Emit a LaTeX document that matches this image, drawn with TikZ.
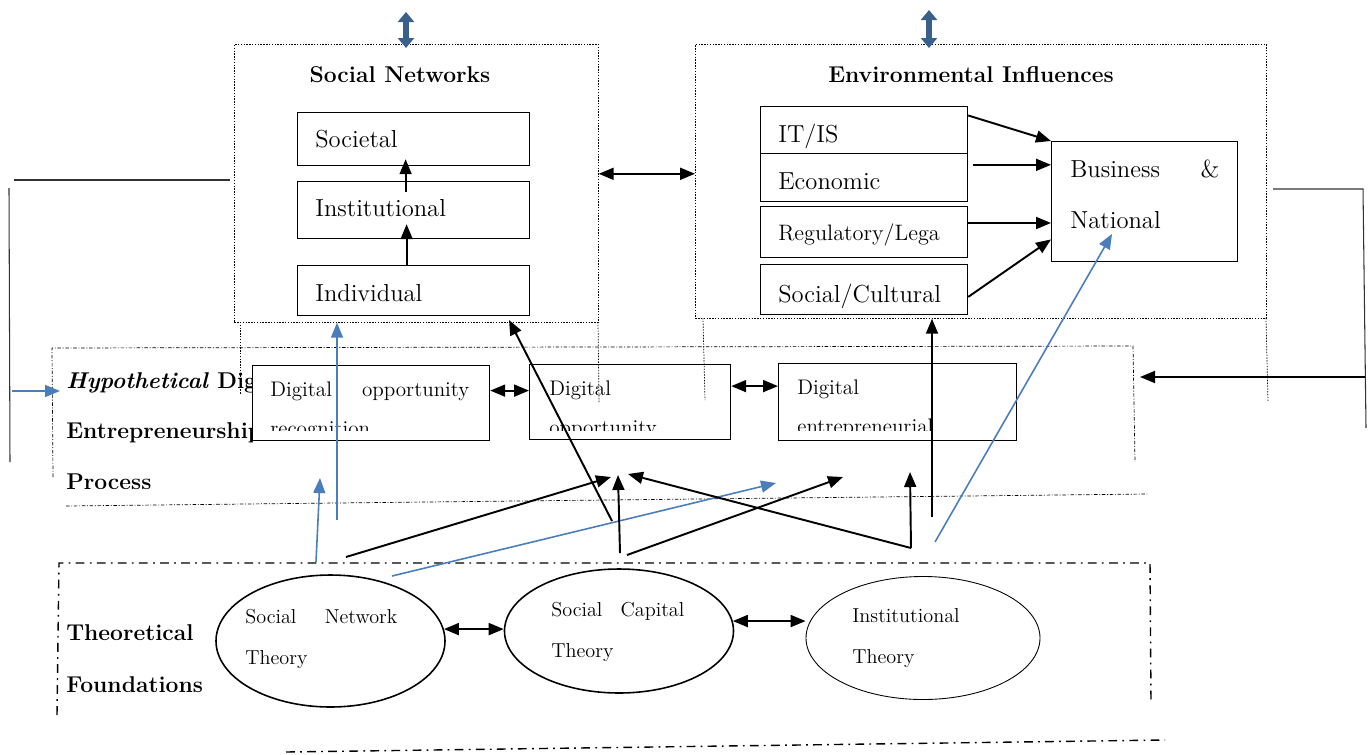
\documentclass[tikz,border=0pt]{standalone}
\usepackage{fontspec}
\usetikzlibrary{arrows.meta,shapes.geometric}
\definecolor{arrowblue}{RGB}{74,126,187}
\definecolor{darkblue}{RGB}{58,95,140}
\newcommand\headfont{\fontsize{13}{15}\bfseries\selectfont}
\newcommand\bodyfont{\fontsize{14}{17}\selectfont}
\newcommand\smallfont{\fontsize{12}{14}\selectfont}
\newcommand\ellfont{\fontsize{11.5}{14}\selectfont}
\tikzset{>={Triangle[length=3mm,width=2.4mm]}}

\begin{document}
\begin{tikzpicture}[x=0.2mm,y=-0.2mm,
  txt/.style={anchor=base west,inner sep=0pt},
  box/.style={draw,line width=0.7pt,anchor=north west,inner sep=0pt},
  frame/.style={draw,anchor=north west,inner sep=0pt,line width=0.4pt,dash pattern=on 0.8pt off 0.8pt},
  dotline/.style={line width=0.4pt,dash pattern=on 0.8pt off 0.8pt},
  dashdot/.style={line width=0.4pt,dash pattern=on 2pt off 1pt on 0.5pt off 1pt},
  bigdashdot/.style={line width=0.8pt,dash pattern=on 5pt off 3pt on 1pt off 3pt},
  arr/.style={->,line width=1.1pt},
  dbl/.style={<->,line width=1.1pt},
  barr/.style={->,arrowblue,line width=0.9pt},
  bigdbl/.style={darkblue,line width=1.2mm,{Triangle[length=2mm,width=3.2mm]}-{Triangle[length=2mm,width=3.2mm]}},
  theory/.style={draw,ellipse,line width=0.9pt,inner sep=0pt}]
\useasboundingbox (0,0) rectangle (1370,754);

% loose lines on both sides
\draw[black!80,line width=0.6pt] (14,180) -- (230,180);
\draw[black!80,line width=0.6pt] (9,188) -- (10,462);
\draw[black!80,line width=0.6pt] (1273,189) -- (1363,189) -- (1366,428);

% social networks
\node[frame,minimum width=72.8mm,minimum height=55.6mm] (snf) at (234,44) {};
\node[font=\headfont] (snTitle) at (400,75) {Social Networks};
\foreach \n/\y/\h/\b/\t in {soc/112/10.6/147/Societal,inst/181/11.4/216/Institutional,indiv/265/10/301/Individual}{
  \node[box,minimum width=46.4mm,minimum height=\h mm] (\n) at (297,\y) {};
  \node[txt,font=\bodyfont] (\n-t) at (315,\b) {\t};
}
\draw[arr,shorten <=-2.2mm,shorten >=-1.4mm] ([xshift=-1.6mm]inst.north) -- ([xshift=-1.6mm]soc.south);
\draw[arr,shorten >=-3mm] ([xshift=-1.4mm]indiv.north) -- ([xshift=-1.4mm]inst.south);

% environmental influences
\node[frame,minimum width=114.2mm,minimum height=54.8mm] (envf) at (695,44) {};
\node[font=\headfont] (envTitle) at (971,75) {Environmental Influences};
\node[box,minimum width=41.4mm,minimum height=9.4mm] (itis) at (760,106) {};
\node[box,minimum width=41.4mm,minimum height=9.6mm] (econ) at (760,153) {};
\node[box,minimum width=41.4mm,minimum height=10.2mm] (reg) at (760,206) {};
\node[box,minimum width=41.4mm,minimum height=10mm] (socc) at (760,264) {};
\node[txt,font=\bodyfont] (itis-t) at (778,142) {IT/IS};
\node[txt,font=\bodyfont] (econ-t) at (778,189) {Economic};
\node[txt,font=\fontsize{12.7}{15}\selectfont] (reg-t) at (778,240) {Regulatory/Lega};
\node[txt,font=\bodyfont] (socc-t) at (778,302) {Social/Cultural};
\node[box,minimum width=37.2mm,minimum height=24mm] (bn) at (1051,141) {};
\node[txt,font=\bodyfont] (bn-a) at (1070,177) {\makebox[29.8mm][l]{Business\hfill\&}};
\node[txt,font=\bodyfont] (bn-b) at (1070,228) {National};
\draw[arr] (itis.8) -- (bn.north west);
\draw[arr,shorten <=1mm] (econ.7) -- (econ.7 -| bn.west);
\draw[arr] (reg.5) -- (reg.5 -| bn.west);
\draw[arr] (socc.-4) -- (bn.202);

\draw[dbl] (snf.3.5) -- (snf.3.5 -| envf.west);
\coordinate (snTop) at (406,12);
\coordinate (envTop) at (929,10);
\draw[bigdbl] (snTop) -- ([yshift=-0.8mm]snTop |- snf.north);
\draw[bigdbl] (envTop) -- ([yshift=-0.8mm]envTop |- envf.north);

% hypothetical process
\draw[dashdot] (53,477) -- (52,348) -- (1133,346) -- (1135,462);
\draw[dashdot] (66,506) -- (1147,494);
\begin{scope}
  \clip (40,340) rectangle (252,500);
  \node[txt,font=\headfont] (hyp) at (66,388) {\textit{Hypothetical} Dig};
  \node[txt,font=\headfont] (ent) at (66,438) {Entrepreneurship};
\end{scope}
\node[txt,font=\headfont] (proc) at (66,489) {Process};
\draw[dotline] (240,322) -- (240,395);
\draw[dotline] (598,322) -- (599,402);
\draw[dotline] (703,318) -- (705,400);
\draw[dotline] (1266,318) -- (1268,402);
\node[box,fill=white,minimum width=47.4mm,minimum height=15mm] (dor) at (252,365) {};
\node[box,minimum width=40.2mm,minimum height=15mm] (dop) at (529,364) {};
\node[box,line width=0.5pt,minimum width=47.6mm,minimum height=15.4mm] (dep) at (778,363) {};
\begin{scope}
  \clip (252,365) rectangle (1016,430);
  \node[txt,font=\smallfont] (dor-a) at (270,396) {\makebox[39.8mm][l]{Digital\hfill opportunity}};
  \node[txt,font=\smallfont] (dor-b) at (270,435) {recognition};
  \node[txt,font=\smallfont] (dop-a) at (549,395) {Digital};
  \node[txt,font=\smallfont] (dop-b) at (549,434) {opportunity};
  \node[txt,font=\smallfont] (dep-a) at (797,394) {Digital};
  \node[txt,font=\smallfont] (dep-b) at (797,433) {entrepreneurial};
\end{scope}
\draw[dbl] (dor.6.5) -- (dor.6.5 -| dop.west);
\draw[dbl] (dop.9) -- (dop.9 -| dep.west);

\coordinate (inL) at (12,391);
\coordinate (inR) at (60,391);
\draw[barr] (inL) -- (inR);
\coordinate (outR) at (1365,377);
\coordinate (outL) at (1140,377);
\draw[arr] (outR) -- (outL);

% theoretical foundations
\draw[bigdashdot] (57,715) -- (59,563) -- (1150,563) -- (1151,703);
\draw[bigdashdot] (286,752) -- (1165,740);
\node[txt,font=\headfont] (theo) at (66,640) {Theoretical};
\node[txt,font=\headfont] (found) at (66,692) {Foundations};
\node[theory,minimum width=45.8mm,minimum height=26.4mm] (snt) at (330.5,641) {};
\node[theory,minimum width=45.8mm,minimum height=24.8mm] (sct) at (619,631) {};
\node[theory,line width=0.5pt,minimum width=46.8mm,minimum height=24.6mm] (ith) at (923,638) {};
\node[txt,font=\ellfont] (snt-a) at (245,623) {\makebox[30.4mm][l]{Social\hfill Network}};
\node[txt,font=\ellfont] (snt-b) at (245,664) {Theory};
\node[txt,font=\ellfont] (sct-a) at (551,616) {\makebox[26.6mm][l]{Social\hfill Capital}};
\node[txt,font=\ellfont] (sct-b) at (551,657) {Theory};
\node[txt,font=\ellfont] (ith-a) at (852,622) {Institutional};
\node[txt,font=\ellfont] (ith-b) at (852,663) {Theory};
\draw[dbl] (snt.6) -- (snt.6 -| sct.west);
\draw[dbl] (sct.5) -- (sct.5 -| ith.west);

% links crossing the process
\coordinate (b1) at (337,520);
\coordinate (b2) at (316,562);
\coordinate (b2e) at (320,478);
\coordinate (b3) at (392,576);
\coordinate (b3e) at (776,483);
\coordinate (b4) at (935,542);
\coordinate (b4e) at (1112,234);
\draw[barr] (b1) -- (b1 |- snf.south);
\draw[barr] (b2) -- (b2e);
\draw[barr] (b3) -- (b3e);
\draw[barr] (b4) -- (b4e);

\coordinate (a1) at (612,521);
\coordinate (a1e) at (509,320);
\coordinate (a2) at (346,557);
\coordinate (a2e) at (611,477);
\coordinate (a3) at (620,553);
\coordinate (a3e) at (618,475);
\coordinate (a4) at (911,548);
\coordinate (a4e) at (628,474);
\coordinate (a5e) at (910,472);
\coordinate (a6) at (627,555);
\coordinate (a6e) at (843,477);
\coordinate (a7) at (932,517);
\draw[arr] (a1) -- (a1e);
\draw[arr] (a2) -- (a2e);
\draw[arr] (a3) -- (a3e);
\draw[arr] (a4) -- (a4e);
\draw[arr] (a4) -- (a5e);
\draw[arr] (a6) -- (a6e);
\draw[arr] (a7) -- (a7 |- envf.south);
\end{tikzpicture}
\end{document}
